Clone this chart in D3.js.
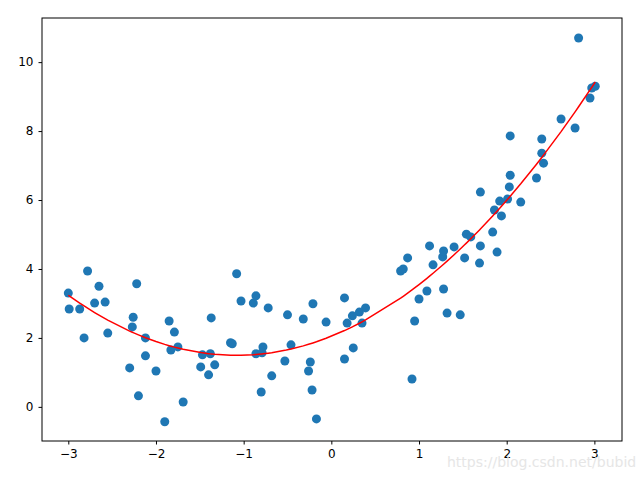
<!DOCTYPE html>
<html>
<head>
<meta charset="UTF-8">
<script src="https://cdn.jsdelivr.net/npm/d3@7"></script>
<style>
  body { margin: 0; background: #fff; }
  text { font-family: "DejaVu Sans", sans-serif; }
</style>
</head>
<body>
<svg id="chart" width="640" height="480"></svg>
<script>
const xs = [-3.0,-2.99,-2.87,-2.82,-2.78,-2.70,-2.65,-2.58,-2.55,-2.30,-2.27,-2.26,-2.22,-2.20,-2.12,-2.12,-2.00,-1.90,-1.85,-1.83,
  -1.79,-1.75,-1.69,-1.49,-1.47,-1.40,-1.38,-1.37,-1.33,-1.15,-1.13,-1.08,-1.03,-0.89,-0.86,-0.86,-0.80,-0.78,-0.79,-0.72,
  -0.68,-0.53,-0.50,-0.46,-0.32,-0.26,-0.24,-0.22,-0.21,-0.17,-0.06,0.15,0.15,0.18,0.24,0.25,0.32,0.35,0.39,0.79,
  0.82,0.87,0.92,0.95,1.00,1.09,1.12,1.16,1.27,1.28,1.28,1.32,1.40,1.47,1.52,1.54,1.59,1.69,1.70,1.70,
  1.84,1.86,1.89,1.92,1.94,2.01,2.03,2.04,2.04,2.16,2.34,2.40,2.40,2.42,2.62,2.78,2.82,2.95,2.97,3.01];
const ys = [3.3,2.84,2.84,2.0,3.94,3.01,3.5,3.04,2.14,1.13,2.32,2.6,3.57,0.32,2.0,1.48,1.04,-0.43,2.49,1.65,
  2.17,1.74,0.14,1.16,1.51,0.93,1.54,2.58,1.22,1.86,1.83,3.86,3.07,3.01,3.22,1.54,0.43,1.74,1.57,2.87,
  0.9,1.33,2.67,1.80,2.55,1.04,1.30,0.49,2.99,-0.35,2.46,3.16,1.39,2.43,2.64,1.71,2.75,2.43,2.87,3.94,
  4.0,4.32,0.81,2.49,3.13,3.36,4.67,4.12,4.35,4.52,3.42,2.72,4.64,2.67,4.32,5.01,4.93,4.17,4.67,6.23,
  5.07,5.71,4.49,5.97,5.54,6.03,6.38,6.72,7.86,5.94,6.64,7.36,7.77,7.07,8.35,8.09,10.7,8.96,9.25,9.3];
const xTicks = [-3,-2,-1,0,1,2,3];
const yTicks = [0,2,4,6,8,10];

// quadratic least-squares fit
function fitQuad(x, y) {
  const S = k => d3.sum(x, v => Math.pow(v, k));
  const T = k => d3.sum(x, (v, i) => Math.pow(v, k) * y[i]);
  const A = [[S(4),S(3),S(2)],[S(3),S(2),S(1)],[S(2),S(1),x.length]];
  const B = [T(2),T(1),T(0)];
  const det = m => m[0][0]*(m[1][1]*m[2][2]-m[1][2]*m[2][1]) - m[0][1]*(m[1][0]*m[2][2]-m[1][2]*m[2][0]) + m[0][2]*(m[1][0]*m[2][1]-m[1][1]*m[2][0]);
  const D = det(A);
  return [0,1,2].map(c => det(A.map((row, r) => row.map((v, j) => j === c ? B[r] : v))) / D);
}
const coef = fitQuad(xs, ys);
const sorted = xs.slice().sort((a, b) => a - b);

const svg = d3.select('#chart');
const mLeft = 42, mRight = 622, mTop = 18, mBottom = 441;
const x = d3.scaleLinear().domain([-3.3, 3.315]).range([mLeft, mRight]);
const y = d3.scaleLinear().domain([-0.99, 11.28]).range([mBottom, mTop]);

svg.selectAll('circle').data(xs).enter().append('circle')
  .attr('cx', d => x(d)).attr('cy', (d, i) => y(ys[i]))
  .attr('r', 4.5).attr('fill', '#1f77b4');

svg.append('path')
  .datum(sorted)
  .attr('fill', 'none').attr('stroke', 'red').attr('stroke-width', 1.5)
  .attr('d', d3.line().x(d => x(d)).y(d => y(coef[0]*d*d + coef[1]*d + coef[2])));

const ax = svg.append('g').attr('transform', `translate(0,${mBottom})`)
  .call(d3.axisBottom(x).tickValues(xTicks).tickSize(3.5).tickPadding(5).tickFormat(d3.format('d')));
const ay = svg.append('g').attr('transform', `translate(${mLeft},0)`)
  .call(d3.axisLeft(y).tickValues(yTicks).tickSize(3.5).tickPadding(5).tickFormat(d3.format('d')));
[ax, ay].forEach(g => {
  g.select('.domain').remove();
  g.selectAll('text').attr('font-size', 12).attr('fill', '#000').style('font-family', 'DejaVu Sans');
  g.selectAll('line').attr('stroke', '#000');
});

svg.append('rect').attr('x', mLeft).attr('y', mTop).attr('width', mRight - mLeft).attr('height', mBottom - mTop)
  .attr('fill', 'none').attr('stroke', '#000').attr('stroke-width', 1);

svg.append('text').attr('x', 447).attr('y', 467).attr('font-size', 14).attr('fill', '#e6e6e6')
  .text('https://blog.csdn.net/bubid');
</script>
</body>
</html>
